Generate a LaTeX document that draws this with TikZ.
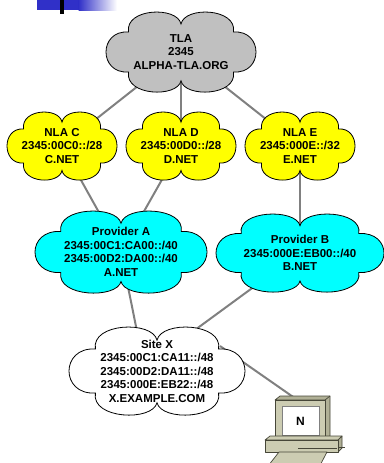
\documentclass[tikz,border=0pt]{standalone}
\usepackage{fontspec}
\setmainfont{Liberation Sans}
\usetikzlibrary{calc}
\pgfdeclarelayer{background}
\pgfsetlayers{background,main}

\definecolor{tlagray}{RGB}{192,192,192}
\definecolor{nlayellow}{RGB}{255,255,0}
\definecolor{provcyan}{RGB}{0,255,255}
\definecolor{linkgray}{RGB}{128,128,128}
\definecolor{barblue}{RGB}{48,48,200}
\definecolor{pcbody}{RGB}{204,204,178}
\definecolor{pcside}{RGB}{176,176,150}
\definecolor{pcline}{RGB}{70,70,56}

% six-puff cloud outline in a unit box, scaled per cloud
\newcommand\puffpath{(-0.7,-0.5) .. controls (-1.1,-0.55) and (-1.1,0.55) .. (-0.7,0.5)
  .. controls (-0.75,1.1) and (-0.05,1.15) .. (0,0.7)
  .. controls (0.05,1.15) and (0.75,1.1) .. (0.7,0.5)
  .. controls (1.1,0.55) and (1.1,-0.55) .. (0.7,-0.5)
  .. controls (0.75,-1.1) and (0.05,-1.15) .. (0,-0.72)
  .. controls (-0.05,-1.15) and (-0.75,-1.1) .. (-0.7,-0.5) -- cycle}

% \netcloud{name}{cx}{cy}{half width}{half height}{fill}{text}
\newcommand\netcloud[7]{%
  \draw[cloudline, fill=#6, shift={(#2,#3)}, xscale=#4, yscale=-#5] \puffpath;
  \node[cloudtext] (#1) at (#2,#3) {#7};}

\tikzset{
  cloudline/.style={draw=black, line width=0.8pt},
  cloudtext/.style={align=center, inner sep=0pt,
    font=\bfseries\fontsize{11.5}{13.5}\selectfont},
  link/.style={draw=linkgray, line width=2pt},
  pcedge/.style={draw=pcline, line width=0.7pt, line join=round},
}

\begin{document}
\begin{tikzpicture}[x=1pt, y=-1pt]
\useasboundingbox (0,0) rectangle (383,463);

% title bar ornament
\fill[barblue] (37,0) rectangle (79,10);
\shade[left color=barblue, right color=white, shading angle=90] (78.5,0) rectangle (117,10);
\fill[black] (60,0) rectangle (64,14);

% clouds
\netcloud{tla}{181}{52}{75}{40}{tlagray}{TLA\\2345\\ALPHA-TLA.ORG}
\netcloud{nlac}{62}{146}{55}{34}{nlayellow}{NLA C\\2345:00C0::/28\\C.NET}
\netcloud{nlad}{181}{146}{55}{34}{nlayellow}{NLA D\\2345:00D0::/28\\D.NET}
\netcloud{nlae}{300}{146}{55}{34}{nlayellow}{NLA E\\2345:000E::/32\\E.NET}
\netcloud{provA}{121}{252}{86}{41}{provcyan}{Provider A\\2345:00C1:CA00::/40\\2345:00D2:DA00::/40\\A.NET}
\netcloud{provB}{300}{253}{84}{39}{provcyan}{Provider B\\2345:000E:EB00::/40\\B.NET}
\netcloud{site}{157}{371}{88}{44}{white}{Site X\\2345:00C1:CA11::/48\\2345:00D2:DA11::/48\\2345:000E:EB22::/48\\X.EXAMPLE.COM}

% host N: monitor
\fill[pcside, pcedge] (275,400) -- (280,396) -- (330,396) -- (330,436) -- (325,440) -- (325,400) -- cycle;
\draw[pcedge] (325,400) -- (330,396);
\node[pcedge, fill=pcbody, minimum width=50pt, minimum height=40pt, inner sep=0pt] (pc) at (300,420) {};
\draw[draw=gray, line width=0.7pt, fill=white] (282,406) rectangle (319,435);
\node[font=\bfseries\fontsize{12}{14}\selectfont] (pclabel) at (300.5,421) {N};
% host N: base unit
\fill[pcbody, pcedge] (265,440) -- (270,436) -- (342,436) -- (338,440) -- cycle;
\fill[pcside, pcedge] (338,440) -- (342,436) -- (342,448) -- (338,452) -- cycle;
\fill[pcbody, pcedge] (265,440) rectangle (338,452);
\draw[pcline, line width=1pt] (298,448) -- (337,448);
\draw[pcedge] (338,447) -- (345,447);
% host N: keyboard
\fill[pcbody, pcedge] (279,452) -- (327,452) -- (321,463.5) -- (270,463.5) -- cycle;

% links
\begin{pgfonlayer}{background}
\draw[link] (tla) -- (nlac);
\draw[link] (tla) -- (nlad);
\draw[link] (tla) -- (nlae);
\draw[link] (nlac) -- (provA);
\draw[link] (nlad) -- (provA);
\draw[link] (nlae) -- (provB);
\draw[link] (provA) -- ([xshift=-12pt]site.center);
\draw[link] (provB) -- ([xshift=-18pt]site.center);
\draw[link] ([shift={(63,-25)}]site.center) -- ([xshift=-3pt]pc.north);
\end{pgfonlayer}
\end{tikzpicture}
\end{document}
